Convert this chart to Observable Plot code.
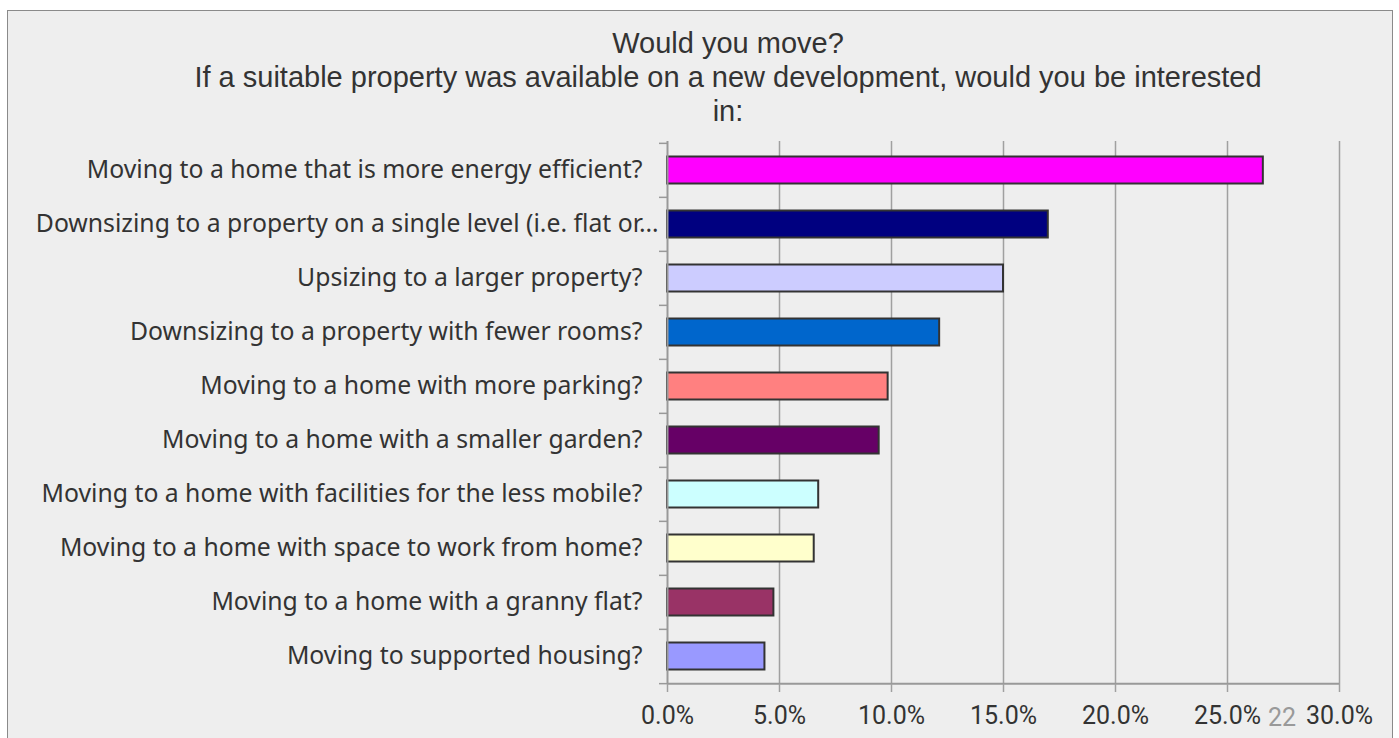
<!DOCTYPE html>
<html><head><meta charset="utf-8">
<script src="https://cdn.jsdelivr.net/npm/d3@7"></script>
<script src="https://cdn.jsdelivr.net/npm/@observablehq/plot@0.6"></script>
<style>
html,body{margin:0;padding:0;background:#fff;}
body{width:1399px;height:738px;overflow:hidden;position:relative;}
#frame{position:absolute;left:7px;top:10px;width:1386px;height:740px;border:1px solid #8a8a8a;background:#eeeeee;box-sizing:border-box;}
#title{position:absolute;left:128px;top:26px;width:1200px;text-align:center;white-space:nowrap;color:#333;font-family:"Liberation Sans",Arial,sans-serif;font-size:29px;line-height:34px;}
#chart{position:absolute;left:0;top:0;}
#pg{position:absolute;left:1262px;top:705px;width:40px;text-align:center;color:#999;font-family:Roboto,sans-serif;font-size:25px;line-height:25px;}
</style></head><body>
<div id="frame"></div>
<div id="title">Would you move?<br>If a suitable property was available on a new development, would you be interested<br>in:</div>
<div id="chart"></div>
<div id="pg">22</div>
<script>
const categories = [
  "Moving to a home that is more energy efficient?",
  "Downsizing to a property on a single level (i.e. flat or\u2026",
  "Upsizing to a larger property?",
  "Downsizing to a property with fewer rooms?",
  "Moving to a home with more parking?",
  "Moving to a home with a smaller garden?",
  "Moving to a home with facilities for the less mobile?",
  "Moving to a home with space to work from home?",
  "Moving to a home with a granny flat?",
  "Moving to supported housing?"
];
const values = [26.6, 17.0, 15.0, 12.15, 9.85, 9.45, 6.75, 6.55, 4.75, 4.35];
const colors = ["#ff00ff","#000080","#ccccff","#0066cc","#ff8080","#660066","#ccffff","#ffffcc","#993366","#9999ff"];
const xTicks = [0, 5, 10, 15, 20, 25, 30];

const data = categories.map((c, i) => ({category: c, value: values[i], color: colors[i]}));
const mTop = 141, mBottom = 54, H = 738;
const band = (H - mTop - mBottom) / categories.length;
const truncated = categories.filter(c => c.endsWith("\u2026"));
const full = categories.filter(c => !c.endsWith("\u2026"));
const labelStyle = {tickSize: 0, fontSize: 24.75, fontFamily: "Noto Sans", fill: "#333", label: null, lineWidth: 100};

const plot = Plot.plot({
  width: 1399, height: H,
  marginLeft: 667, marginRight: 60, marginTop: mTop, marginBottom: mBottom,
  style: {background: "transparent", color: "#333", overflow: "visible"},
  x: {domain: [0, 30], ticks: xTicks, label: null},
  y: {domain: categories, padding: 0, label: null},
  marks: [
    Plot.ruleX(xTicks.slice(1), {stroke: "#a0a0a0", strokeWidth: 1.5}),
    Plot.barX(data, {y: "category", x: "value", fill: "color", stroke: "#333", strokeWidth: 2, insetTop: 13.5, insetBottom: 13.5}),
    Plot.ruleX([0], {stroke: "#999", strokeWidth: 2}),
    Plot.ruleY([categories[categories.length - 1]], {dy: band / 2, stroke: "#999", strokeWidth: 2}),
    Plot.axisX({ticks: xTicks, tickSize: 8, tickPadding: 14, tickFormat: d => d.toFixed(1) + "%", fontSize: 25, fontFamily: "Roboto", stroke: "#a0a0a0", strokeWidth: 1.5, fill: "#333", label: null}),
    Plot.axisY({tickSize: 8, tickFormat: () => "", dy: -band / 2, stroke: "#999", strokeWidth: 1.5, label: null}),
    Plot.axisY([categories[categories.length - 1]], {tickSize: 8, tickFormat: () => "", dy: band / 2, stroke: "#999", strokeWidth: 1.5, label: null}),
    Plot.axisY(full, {...labelStyle, tickPadding: 25}),
    Plot.axisY(truncated, {...labelStyle, tickPadding: 9})
  ]
});
document.getElementById("chart").appendChild(plot);
</script>
</body></html>
